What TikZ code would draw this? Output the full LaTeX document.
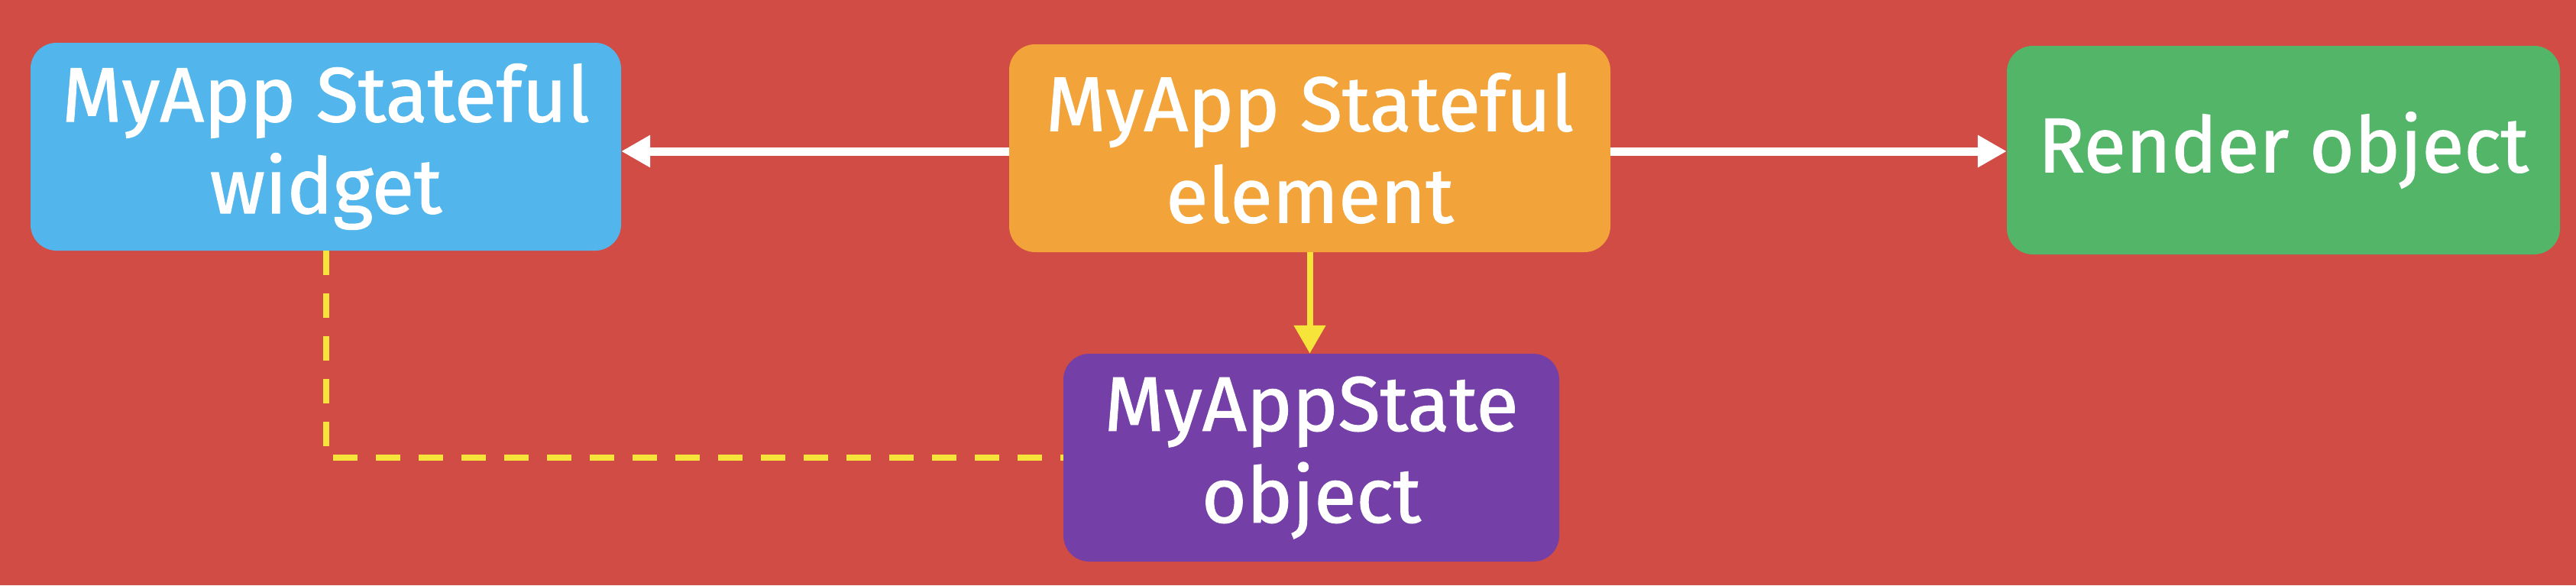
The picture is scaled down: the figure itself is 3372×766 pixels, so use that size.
\documentclass[tikz,border=0pt]{standalone}
\usepackage{fontspec}
\setmainfont{Fira Sans}[FakeBold=1.2]
\usetikzlibrary{arrows.meta}
\definecolor{bgred}{HTML}{D04C44}
\definecolor{boxblue}{HTML}{52B6EC}
\definecolor{boxorange}{HTML}{F2A43A}
\definecolor{boxgreen}{HTML}{52B568}
\definecolor{boxpurple}{HTML}{7440A8}
\definecolor{lineyellow}{HTML}{F7E43A}
\begin{document}
\begin{tikzpicture}[x=1pt,y=-1pt,
  box/.style={rounded corners=34pt, inner sep=0pt, align=center, text=white,
    font=\fontsize{101}{120}\selectfont},
  whitearrow/.style={draw=white, line width=11pt, -{Triangle[length=38pt,width=40pt]}},
  yellowarrow/.style={draw=lineyellow, line width=8pt, -{Triangle[length=37pt,width=40pt]}},
  yellowdash/.style={draw=lineyellow, line width=8pt, dash pattern=on 32pt off 24pt}]
\fill[bgred] (0,0) rectangle (3372,766);
\useasboundingbox (0,0) rectangle (3372,766);
\node[box, fill=boxblue, minimum width=773pt, minimum height=272pt] (blue) at (426.5,192) {MyApp Stateful\\widget};
\node[box, fill=boxorange, minimum width=787pt, minimum height=272pt] (orange) at (1714.5,194) {MyApp Stateful\\element};
\node[box, fill=boxgreen, minimum width=724pt, minimum height=273pt] (green) at (2989,196.5) {Render object};
\node[box, fill=boxpurple, minimum width=649pt, minimum height=272pt] (purple) at (1716.5,599) {MyAppState\\object};
\coordinate (arrowy) at (0,198);
\draw[whitearrow] (orange.west |- arrowy) -- (blue.east |- arrowy);
\draw[whitearrow] (orange.east |- arrowy) -- (green.west |- arrowy);
\draw[yellowarrow] (orange.south) -- (orange.south |- purple.north);
\draw[yellowdash] (blue.south) -- (blue.south |- purple.west) -- (purple.west);
\end{tikzpicture}
\end{document}
